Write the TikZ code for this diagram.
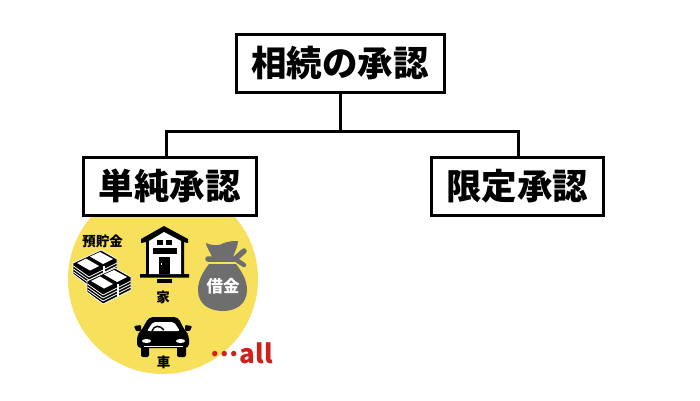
\documentclass[tikz,border=0pt]{standalone}
\usepackage{fontspec}
\setmainfont{Noto Sans CJK JP}
\usepackage{xcolor}
\usetikzlibrary{calc}
\definecolor{circleyellow}{HTML}{F6E05C}
\definecolor{baggray}{HTML}{6E6E6E}
\definecolor{allred}{HTML}{D0201C}
\tikzset{
	x=1pt, y=-1pt,
	termbox/.style={draw=black, fill=white, line width=3pt, minimum height=58pt, font=\fontsize{35.5}{35.5}\selectfont\bfseries, inner sep=0pt},
	link/.style={draw=black, line width=3pt},
	smalllabel/.style={font=\fontsize{13.5}{13.5}\selectfont\bfseries, inner sep=0pt},
	bundle/.pic={
		\fill[black, draw=white, line width=0.8pt] (0,0) -- (28,-13) -- (44,-4) -- (44,9) -- (16,23) -- (0,11) -- cycle;
		\fill[white] (4,0) -- (13,-4.5) -- (26,3) -- (17,7.5) -- cycle;
		\fill[white] (17,-6.5) -- (27,-11) -- (40,-4) -- (30,1) -- cycle;
		\foreach \h in {3,6,9} {
			\draw[white, line width=0.8pt] (0.5,\h) -- (16,\h+11) -- (44,\h-3);
		}
		\draw[white, line width=1.2pt] (31,3) -- (31,16);
	},
}
\begin{document}
\begin{tikzpicture}
	\useasboundingbox (0,0) rectangle (700,400);
	\node[circle, fill=circleyellow, minimum size=190pt, inner sep=0pt] (spot) at (163,279) {};
	% boxes
	\node[termbox, minimum width=208pt] (approval) at (340,63) {相続の承認};
	\node[termbox, minimum width=173pt] (simple) at (169.5,186) {単純承認};
	\node[termbox, minimum width=172pt] (limited) at (517,186) {限定承認};
	\coordinate (fork) at (340,131);
	\coordinate (forkleft) at (166,131);
	\coordinate (forkright) at (518,131);
	\draw[link] (approval.south) -- (fork);
	\draw[link] (forkleft |- simple.north) -- (forkleft) -- (forkright) -- (forkright |- limited.north);
	% savings
	\node[smalllabel] (savings) at (102.5,241) {預貯金};
	\pic at (73,263) {bundle};
	\pic at (87,281) {bundle};
	% house
	\fill[black] (164,226) -- (188,239) -- (188,243) -- (184,242) -- (184,274) -- (189,274) -- (189,277.5) -- (140,277.5) -- (140,274) -- (146,274) -- (146,242) -- (141,243) -- (141,239) -- cycle;
	\fill[white] (164,232) -- (181,241) -- (181,274) -- (149,274) -- (149,241) -- cycle;
	\fill[black] (157,240) rectangle (163,245);
	\fill[black] (166,240) rectangle (172,245);
	\fill[black] (153,248) rectangle (177,254);
	\fill[black] (159,257) rectangle (170,274);
	\fill[white] (161,263) rectangle (162,264.5);
	\fill[black] (157,278.5) rectangle (172,283);
	\node[smalllabel] (house) at (163,297) {家};
	% debt bag
	\fill[baggray] (206,243) .. controls (213,246) and (219,246) .. (224,243) .. controls (229,241) and (234,241) .. (238,241) .. controls (238,246) and (235,251) .. (233,257) -- (212,257) .. controls (210,251) and (206,247) .. (206,243) -- cycle;
	\draw[baggray, line width=5.5pt, line cap=round] (208,259) -- (235,259) -- (244,251);
	\draw[baggray, line width=4.5pt, line cap=round] (235,259) -- (244,265);
	\fill[baggray] (209,264) -- (236,264) .. controls (242,272) and (247,280) .. (247,290) .. controls (247,304) and (236,311) .. (223,311) .. controls (209,311) and (198,304) .. (198,290) .. controls (198,280) and (203,272) .. (209,264) -- cycle;
	\node[font=\fontsize{16.5}{16.5}\selectfont\bfseries, text=white, inner sep=0pt] (debt) at (223,286) {借金};
	% car
	\fill[black, rounded corners=2pt] (141,345) rectangle (149,357);
	\fill[black, rounded corners=2pt] (177,345) rectangle (186,357);
	\fill[black, rounded corners=4pt] (149,317) -- (178,317) -- (185,331) -- (189,335) -- (189,348) -- (137,348) -- (137,335) -- (141,331) -- cycle;
	\fill[black, rounded corners=1pt] (134,326) -- (141,325) -- (141,331) -- (136,331) -- cycle;
	\fill[black, rounded corners=1pt] (192,326) -- (185,325) -- (185,331) -- (190,331) -- cycle;
	\fill[white, rounded corners=2pt] (153,322) -- (174,322) -- (180,331) -- (147,331) -- cycle;
	\draw[black, line width=1.5pt] (152,331) .. controls (154,325) and (160,325) .. (164,330);
	\fill[white] (146.5,341) ellipse [x radius=4.5, y radius=2];
	\fill[white] (180.5,341) ellipse [x radius=4.5, y radius=2];
	\draw[white, line width=1pt] (144,346) -- (183,346);
	\node[smalllabel] (car) at (163.5,362) {車};
	% all
	\node[text=allred, anchor=base west, font=\fontsize{26}{26}\selectfont\bfseries, inner sep=0pt] (allmark) at (210,363.5) {\raisebox{7pt}{\fontsize{25}{25}\selectfont…}\hspace{1.5pt}all};
\end{tikzpicture}
\end{document}
